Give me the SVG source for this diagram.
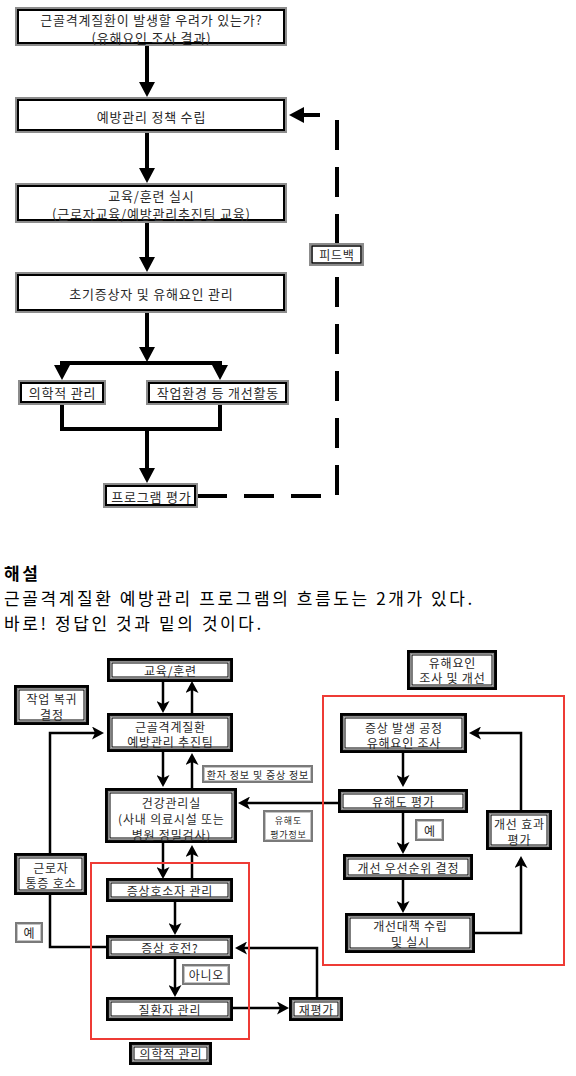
<svg xmlns="http://www.w3.org/2000/svg" width="576" height="1076" viewBox="0 0 576 1076">
<style>
.t{font-family:"Noto Sans CJK KR","Noto Sans",sans-serif;fill:#2a2a2a;text-anchor:middle;dominant-baseline:central;letter-spacing:0.8px}
.s13{font-size:13px}.s12{font-size:12px}.s10{font-size:10px}.s9{font-size:9px}
.ob{fill:#fff;stroke:#8c8c8c;stroke-width:2}
.ib{fill:none;stroke:#000;stroke-width:2}
.bo{fill:#fff;stroke:#000;stroke-width:3}
.bg{fill:none;stroke:#8a8a8a;stroke-width:1.2}
.bi{fill:none;stroke:#000;stroke-width:1}
.lo{fill:#fff;stroke:#7a7a7a;stroke-width:2}
.li{fill:none;stroke:#c4c4c4;stroke-width:1}
.c1{fill:none;stroke:#000;stroke-width:4}
.c1a{fill:none;stroke:#000;stroke-width:4;marker-end:url(#A)}
.dash{fill:none;stroke:#000;stroke-width:4;stroke-dasharray:30 17}
.c2{fill:none;stroke:#000;stroke-width:2.5}
.c2a{fill:none;stroke:#000;stroke-width:2.5;marker-end:url(#B)}
.red{fill:none;stroke:#ee3b35;stroke-width:2}
.p{font-family:"Noto Sans CJK KR","Noto Sans",sans-serif;fill:#000;font-size:17px;letter-spacing:2.6px}
</style>
<defs>
<marker id="A" markerUnits="userSpaceOnUse" markerWidth="15" markerHeight="16" refX="3" refY="8" orient="auto" viewBox="0 0 15 16"><path d="M0,0 L15,8 L0,16 z" fill="#000"/></marker>
<marker id="B" markerUnits="userSpaceOnUse" markerWidth="12" markerHeight="13" refX="4" refY="6.5" orient="auto" viewBox="0 0 12 13"><path d="M0,0 L12,6.5 L0,13 L3,6.5 z" fill="#000"/></marker>
</defs>

<g id="connectors-top">
<path class="c1a" d="M147,46 V85"/>
<path class="c1a" d="M147,133 V171"/>
<path class="c1a" d="M147,223 V260"/>
<path class="c1a" d="M147,313 V350"/>
<path class="c1" d="M62,363 H220"/>
<path class="c1a" d="M62,361 V368"/>
<path class="c1a" d="M220,361 V368"/>
<path class="c1" d="M62,405 V429 H220 V405"/>
<path class="c1a" d="M147,429 V471"/>
<path class="dash" d="M337,120 V243"/>
<path class="dash" d="M337,277 V496 H198"/>
<path class="c1a" d="M320,115 H301"/>
</g>

<g id="n1"><rect class="ob" x="16" y="8" width="270" height="37"/><rect class="ib" x="18" y="10" width="266" height="33"/>
<text class="t s13" x="151.4" y="19.5">근골격계질환이 발생할 우려가 있는가?</text><text class="t s13" x="151.4" y="37">(유해요인 조사 결과)</text></g>
<g id="n2"><rect class="ob" x="16" y="98" width="270" height="34"/><rect class="ib" x="18" y="100" width="266" height="30"/>
<text class="t s13" x="151.4" y="116">예방관리 정책 수립</text></g>
<g id="n3"><rect class="ob" x="16" y="184" width="270" height="38"/><rect class="ib" x="18" y="186" width="266" height="34"/>
<text class="t s13" x="151.4" y="195.5">교육/훈련 실시</text><text class="t s13" x="151.4" y="213.5">(근로자교육/예방관리추진팀 교육)</text></g>
<g id="n4"><rect class="ob" x="16" y="273" width="270" height="39"/><rect class="ib" x="18" y="275" width="266" height="35"/>
<text class="t s13" x="151.4" y="293">초기증상자 및 유해요인 관리</text></g>
<g id="n5"><rect class="ob" x="19" y="381" width="86" height="23"/><rect class="ib" x="21" y="383" width="82" height="19"/>
<text class="t s13" x="62.4" y="392.5">의학적 관리</text></g>
<g id="n6"><rect class="ob" x="147" y="381" width="141" height="23"/><rect class="ib" x="149" y="383" width="137" height="19"/>
<text class="t s13" x="217.9" y="392.5">작업환경 등 개선활동</text></g>
<g id="n7"><rect class="ob" x="104" y="484" width="93" height="23"/><rect class="ib" x="106" y="486" width="89" height="19"/>
<text class="t s13" x="151.4" y="496">프로그램 평가</text></g>
<g id="n8"><rect class="ob" x="310" y="244" width="53" height="21"/><rect class="ib" x="312" y="246" width="49" height="17" style="stroke-width:1.5"/>
<text class="t s12" x="336.9" y="254.5">피드백</text></g>

<g id="explanation">
<text class="p" x="4" y="580" font-weight="bold">해설</text>
<text class="p" x="4" y="605">근골격계질환 예방관리 프로그램의 흐름도는 2개가 있다.</text>
<text class="p" x="4" y="630">바로! 정답인 것과 밑의 것이다.</text>
</g>

<g id="connectors-bottom">
<path class="c2a" d="M163,682 V705"/>
<path class="c2a" d="M192,713 V689"/>
<path class="c2a" d="M163,752 V779"/>
<path class="c2a" d="M192,788 V761"/>
<path class="c2a" d="M163,843 V871"/>
<path class="c2a" d="M192,878 V853"/>
<path class="c2a" d="M175,902 V927"/>
<path class="c2a" d="M175,959 V989"/>
<path class="c2a" d="M233,1008 H281"/>
<path class="c2a" d="M317,997 V948 H243"/>
<path class="c2a" d="M106,947 H50 V733 H96"/>
<path class="c2a" d="M338,803 H246"/>
<path class="c2a" d="M403,753 V779"/>
<path class="c2a" d="M403,813 V846"/>
<path class="c2a" d="M403,880 V905"/>
<path class="c2a" d="M475,933 H521 V864"/>
<path class="c2a" d="M521,810 V733 H477"/>
</g>

<g id="groups">
<rect class="red" x="91" y="863" width="158" height="176"/>
<rect class="red" x="323" y="696" width="241" height="269"/>
</g>

<g id="b1"><rect class="bo" x="108.5" y="659.5" width="123" height="21"/><rect class="bg" x="110.5" y="661.5" width="119" height="17"/><rect class="bi" x="112" y="663" width="116" height="14"/>
<text class="t s12" x="170.4" y="670">교육/훈련</text></g>
<g id="b2"><rect class="bo" x="15.5" y="686.5" width="72" height="37"/><rect class="bg" x="17.5" y="688.5" width="68" height="33"/><rect class="bi" x="19" y="690" width="65" height="30"/>
<text class="t s12" x="51.9" y="698">작업 복귀</text><text class="t s12" x="51.9" y="714">결정</text></g>
<g id="b3"><rect class="bo" x="108.5" y="714.5" width="123" height="36"/><rect class="bg" x="110.5" y="716.5" width="119" height="32"/><rect class="bi" x="112" y="718" width="116" height="29"/>
<text class="t s12" x="170.4" y="726">근골격계질환</text><text class="t s12" x="170.4" y="741">예방관리 추진팀</text></g>
<g id="b4"><rect class="bo" x="106.5" y="789.5" width="129" height="52"/><rect class="bg" x="108.5" y="791.5" width="125" height="48"/><rect class="bi" x="110" y="793" width="122" height="45"/>
<text class="t s12" x="171.4" y="802">건강관리실</text><text class="t s12" x="171.4" y="818">(사내 의료시설 또는</text><text class="t s12" x="171.4" y="834">병원 정밀검사)</text></g>
<g id="b5"><rect class="bo" x="15.5" y="854.5" width="70" height="39"/><rect class="bg" x="17.5" y="856.5" width="66" height="35"/><rect class="bi" x="19" y="858" width="63" height="32"/>
<text class="t s12" x="50.9" y="867">근로자</text><text class="t s12" x="50.9" y="882">통증 호소</text></g>
<g id="b6"><rect class="bo" x="107.5" y="879.5" width="124" height="21"/><rect class="bg" x="109.5" y="881.5" width="120" height="17"/><rect class="bi" x="111" y="883" width="117" height="14"/>
<text class="t s12" x="169.9" y="890">증상호소자 관리</text></g>
<g id="b7"><rect class="bo" x="107.5" y="936.5" width="124" height="21"/><rect class="bg" x="109.5" y="938.5" width="120" height="17"/><rect class="bi" x="111" y="940" width="117" height="14"/>
<text class="t s12" x="169.9" y="947">증상 호전?</text></g>
<g id="b8"><rect class="bo" x="107.5" y="998.5" width="124" height="21"/><rect class="bg" x="109.5" y="1000.5" width="120" height="17"/><rect class="bi" x="111" y="1002" width="117" height="14"/>
<text class="t s12" x="169.9" y="1009">질환자 관리</text></g>
<g id="b9"><rect class="bo" x="290.5" y="998.5" width="51" height="21"/><rect class="bg" x="292.5" y="1000.5" width="47" height="17"/><rect class="bi" x="294" y="1002" width="44" height="14"/>
<text class="t s12" x="316.4" y="1009">재평가</text></g>
<g id="b10"><rect class="bo" x="130.5" y="1043.5" width="80" height="20"/><rect class="bg" x="132.5" y="1045.5" width="76" height="16"/><rect class="bi" x="134" y="1047" width="73" height="13"/>
<text class="t s12" x="170.9" y="1053.5">의학적 관리</text></g>
<g id="b11"><rect class="bo" x="408.5" y="651.5" width="87" height="37"/><rect class="bg" x="410.5" y="653.5" width="83" height="33"/><rect class="bi" x="412" y="655" width="80" height="30"/>
<text class="t s12" x="452.4" y="662">유해요인</text><text class="t s12" x="452.4" y="677">조사 및 개선</text></g>
<g id="b12"><rect class="bo" x="341.5" y="714.5" width="124" height="37"/><rect class="bg" x="343.5" y="716.5" width="120" height="33"/><rect class="bi" x="345" y="718" width="117" height="30"/>
<text class="t s12" x="403.9" y="727">증상 발생 공정</text><text class="t s12" x="403.9" y="742">유해요인 조사</text></g>
<g id="b13"><rect class="bo" x="339.5" y="790.5" width="127" height="21"/><rect class="bg" x="341.5" y="792.5" width="123" height="17"/><rect class="bi" x="343" y="794" width="120" height="14"/>
<text class="t s12" x="403.4" y="801">유해도 평가</text></g>
<g id="b14"><rect class="bo" x="487.5" y="811.5" width="63" height="37"/><rect class="bg" x="489.5" y="813.5" width="59" height="33"/><rect class="bi" x="491" y="815" width="56" height="30"/>
<text class="t s12" x="519.4" y="823">개선 효과</text><text class="t s12" x="519.4" y="839">평가</text></g>
<g id="b15"><rect class="bo" x="344.5" y="855.5" width="127" height="23"/><rect class="bg" x="346.5" y="857.5" width="123" height="19"/><rect class="bi" x="348" y="859" width="120" height="16"/>
<text class="t s12" x="408.4" y="867">개선 우선순위 결정</text></g>
<g id="b16"><rect class="bo" x="346.5" y="914.5" width="127" height="37"/><rect class="bg" x="348.5" y="916.5" width="123" height="33"/><rect class="bi" x="350" y="918" width="120" height="30"/>
<text class="t s12" x="410.4" y="925">개선대책 수립</text><text class="t s12" x="410.4" y="941">및 실시</text></g>

<g id="l1"><rect class="lo" x="203" y="766" width="109" height="16"/><rect class="li" x="204.5" y="767.5" width="106" height="13"/>
<text class="t s10" x="257.9" y="774">환자 정보 및 증상 정보</text></g>
<g id="l2"><rect class="lo" x="264" y="811" width="48" height="30"/><rect class="li" x="265.5" y="812.5" width="45" height="27"/>
<text class="t s9" x="288.4" y="820">유해도</text><text class="t s9" x="288.4" y="834">평가정보</text></g>
<g id="l3"><rect class="lo" x="16" y="923" width="26" height="19"/><rect class="li" x="17.5" y="924.5" width="23" height="16"/>
<text class="t s12" x="29.4" y="932.5">예</text></g>
<g id="l4"><rect class="lo" x="183" y="965" width="46" height="19"/><rect class="li" x="184.5" y="966.5" width="43" height="16"/>
<text class="t s12" x="206.4" y="974">아니오</text></g>
<g id="l5"><rect class="lo" x="416" y="820" width="27" height="20"/><rect class="li" x="417.5" y="821.5" width="24" height="17"/>
<text class="t s12" x="429.9" y="830">예</text></g>
</svg>
